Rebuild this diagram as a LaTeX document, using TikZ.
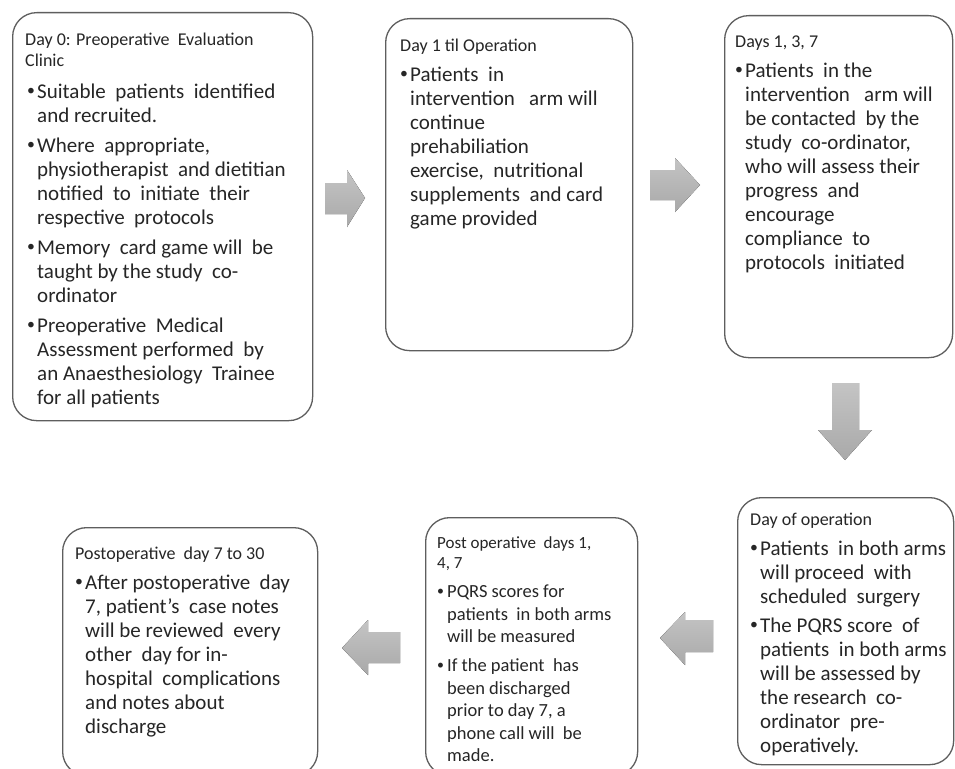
\documentclass[tikz,border=0pt]{standalone}
\usepackage{fontspec}
\usepackage{graphicx}
\setmainfont{Carlito}
\definecolor{boxgray}{HTML}{5E5E5E}
\definecolor{txtc}{HTML}{262626}
\definecolor{arrtop}{HTML}{C4C4C4}
\definecolor{arrbot}{HTML}{A9A9A9}
\newcommand\bpt[1]{\makebox[10pt][l]{\raisebox{0.3ex}{\scalebox{0.75}{•}}}#1}
\newcommand\cpt[1]{\hspace*{10pt}#1}
\begin{document}
\begin{tikzpicture}[x=1pt,y=-1pt,
  box/.style={draw=boxgray, line width=1.3pt, rounded corners=24pt, fill=white, inner sep=0pt, anchor=north west},
  ttl/.style={anchor=north west, inner sep=0pt, align=left, text=txtc, font=\fontsize{18}{21}\selectfont},
  bod/.style={anchor=north west, inner sep=0pt, align=left, text=txtc, font=\fontsize{21}{24}\selectfont},
  bodsmall/.style={bod, font=\fontsize{18.5}{22.5}\selectfont},
  blk/.style={top color=arrtop, bottom color=arrbot, draw=none}]
\clip (0,0) rectangle (955,768);
\fill[white] (0,0) rectangle (955,768);

% boxes
\node[box, minimum width=300pt, minimum height=408pt] (b1) at (12,12) {};
\node[box, minimum width=247pt, minimum height=332pt] (b2) at (385,18) {};
\node[box, minimum width=228pt, minimum height=342pt] (b3) at (724,15) {};
\node[box, minimum width=216pt, minimum height=267pt] (b4) at (737,497) {};
\node[box, minimum width=212pt, minimum height=258pt] (b5) at (425,517) {};
\node[box, minimum width=255pt, minimum height=248pt] (b6) at (62,527) {};

% box 1
\node[ttl] (t1) at ([shift={(13,21)}]b1.north west) {Day 0: Preoperative \ Evaluation\\Clinic};
\node[bod] (x1) at ([shift={(15,72)}]b1.north west) {%
\bpt{Suitable \ patients \ identified}\\
\cpt{and recruited.}\\[6pt]
\bpt{Where \ appropriate,}\\
\cpt{physiotherapist \ and dietitian}\\
\cpt{notified \ to \ initiate \ their}\\
\cpt{respective \ protocols}\\[6pt]
\bpt{Memory \ card game will \ be}\\
\cpt{taught by the study \ co-}\\
\cpt{ordinator}\\[6pt]
\bpt{Preoperative \ Medical}\\
\cpt{Assessment performed \ by}\\
\cpt{an Anaesthesiology \ Trainee}\\
\cpt{for all patients}};

% box 2
\node[ttl] (t2) at ([shift={(15,21)}]b2.north west) {Day 1 til Operation};
\node[bod] (x2) at ([shift={(15,49)}]b2.north west) {%
\bpt{Patients \ in}\\
\cpt{intervention \ \ arm will}\\
\cpt{continue}\\
\cpt{prehabiliation}\\
\cpt{exercise, \ nutritional}\\
\cpt{supplements \ and card}\\
\cpt{game provided}};

% box 3
\node[ttl] (t3) at ([shift={(11,21)}]b3.north west) {Days 1, 3, 7};
\node[bod] (x3) at ([shift={(11,48)}]b3.north west) {%
\bpt{Patients \ in the}\\
\cpt{intervention \ \ arm will}\\
\cpt{be contacted \ by the}\\
\cpt{study \ co-ordinator,}\\
\cpt{who will assess their}\\
\cpt{progress \ and}\\
\cpt{encourage}\\
\cpt{compliance \ to}\\
\cpt{protocols \ initiated}};

% box 4
\node[ttl] (t4) at ([shift={(13,16)}]b4.north west) {Day of operation};
\node[bod] (x4) at ([shift={(13,44)}]b4.north west) {%
\bpt{Patients \ in both arms}\\
\cpt{will proceed \ with}\\
\cpt{scheduled \ surgery}\\[5pt]
\bpt{The PQRS score \ of}\\
\cpt{patients \ in both arms}\\
\cpt{will be assessed by}\\
\cpt{the research \ co-}\\
\cpt{ordinator \ pre-}\\
\cpt{operatively.}};

% box 5
\node[ttl, font=\fontsize{17}{20}\selectfont] (t5) at ([shift={(12,19.5)}]b5.north west) {Post operative \ days 1,\\4, 7};
\node[bodsmall] (x5) at ([shift={(12,68)}]b5.north west) {%
\bpt{PQRS scores for}\\
\cpt{patients \ in both arms}\\
\cpt{will be measured}\\[6.5pt]
\bpt{If the patient \ has}\\
\cpt{been discharged}\\
\cpt{prior to day 7, a}\\
\cpt{phone call will \ be}\\
\cpt{made.}};

% box 6
\node[ttl] (t6) at ([shift={(13,20)}]b6.north west) {Postoperative \ day 7 to 30};
\node[bod] (x6) at ([shift={(13,48)}]b6.north west) {%
\bpt{After postoperative \ day}\\
\cpt{7, patient's \ case notes}\\
\cpt{will be reviewed \ every}\\
\cpt{other \ day for in-}\\
\cpt{hospital \ complications}\\
\cpt{and notes about}\\
\cpt{discharge}};

% block arrows
\fill[blk] (325,183) -- (347,183) -- (347,170) -- (365,198) -- (347,227) -- (347,214) -- (325,214) -- cycle;
\fill[blk] (650,170) -- (675,170) -- (675,158) -- (700,185) -- (675,212) -- (675,200) -- (650,200) -- cycle;
\fill[blk] (832,383) -- (859,383) -- (859,430) -- (872,430) -- (845,460) -- (818,430) -- (832,430) -- cycle;
\fill[blk] (400,632) -- (368,632) -- (368,620) -- (342,648) -- (368,675) -- (368,663) -- (400,663) -- cycle;
\fill[blk] (713,620) -- (685,620) -- (685,612) -- (660,638) -- (685,665) -- (685,652) -- (713,652) -- cycle;
\end{tikzpicture}
\end{document}
